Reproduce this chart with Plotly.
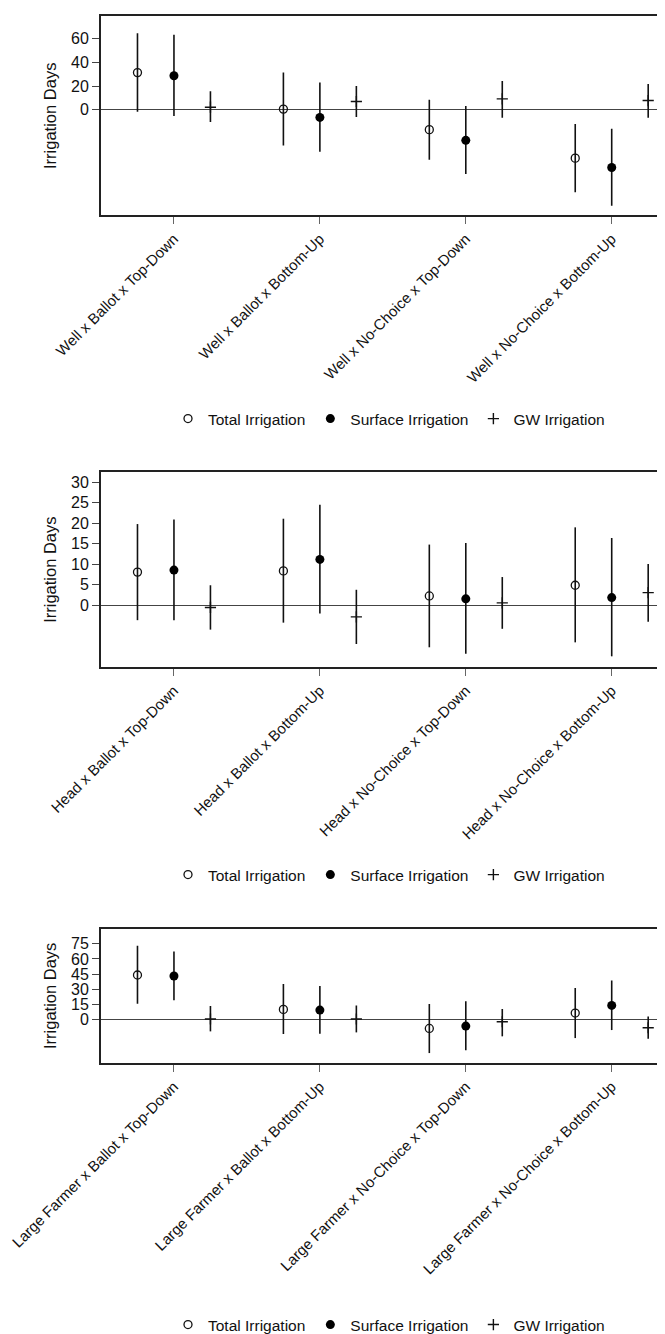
import plotly.graph_objects as go

W, H = 665, 1334

categories_well = ["Well x Ballot x Top-Down", "Well x Ballot x Bottom-Up",
                   "Well x No-Choice x Top-Down", "Well x No-Choice x Bottom-Up"]
categories_head = ["Head x Ballot x Top-Down", "Head x Ballot x Bottom-Up",
                   "Head x No-Choice x Top-Down", "Head x No-Choice x Bottom-Up"]
categories_large = ["Large Farmer x Ballot x Top-Down", "Large Farmer x Ballot x Bottom-Up",
                    "Large Farmer x No-Choice x Top-Down", "Large Farmer x No-Choice x Bottom-Up"]

series_names = ["Total Irrigation", "Surface Irrigation", "GW Irrigation"]

# Panel 1: Well
well_total = [31.3, 0.6, -16.7, -40.7]
well_total_hi = [64.5, 31.3, 8.4, -12.0]
well_total_lo = [-1.7, -30.1, -42.1, -69.5]
well_surf = [28.7, -6.4, -25.7, -48.6]
well_surf_hi = [63.1, 22.9, 3.1, -15.9]
well_surf_lo = [-5.3, -35.4, -54.1, -80.7]
well_gw = [2.2, 7.0, 9.2, 7.8]
well_gw_hi = [15.6, 20.1, 24.3, 21.8]
well_gw_lo = [-10.3, -6.1, -6.7, -6.7]

# Panel 2: Head
head_total = [8.1, 8.4, 2.3, 4.9]
head_total_hi = [19.8, 21.1, 14.8, 19.0]
head_total_lo = [-3.6, -4.2, -10.2, -9.0]
head_surf = [8.6, 11.2, 1.6, 1.9]
head_surf_hi = [20.9, 24.5, 15.2, 16.4]
head_surf_lo = [-3.6, -2.0, -11.8, -12.4]
head_gw = [-0.5, -2.8, 0.6, 3.1]
head_gw_hi = [4.9, 3.8, 6.9, 10.1]
head_gw_lo = [-5.9, -9.4, -5.7, -4.0]

# Panel 3: Large Farmer
large_total = [44.1, 10.2, -8.6, 6.6]
large_total_hi = [73.0, 35.2, 15.5, 31.2]
large_total_lo = [15.8, -14.1, -32.9, -18.1]
large_surf = [43.1, 9.5, -6.3, 14.1]
large_surf_hi = [67.4, 33.2, 18.1, 38.8]
large_surf_lo = [19.1, -13.8, -30.2, -10.2]
large_gw = [0.7, 0.7, -2.0, -7.9]
large_gw_hi = [13.5, 14.1, 10.5, 3.3]
large_gw_lo = [-11.5, -12.5, -16.4, -18.7]

ytick_well = [0, 20, 40, 60]
ytick_head = [0, 5, 10, 15, 20, 25, 30]
ytick_large = [0, 15, 30, 45, 60, 75]

panels = [
    dict(cats=categories_well, ticks=ytick_well, yr=[-88.8, 78.7], top=8.3, bot=207.3, leg_y=411,
         series=[(well_total, well_total_hi, well_total_lo),
                 (well_surf, well_surf_hi, well_surf_lo),
                 (well_gw, well_gw_hi, well_gw_lo)]),
    dict(cats=categories_head, ticks=ytick_head, yr=[-15.0, 32.4], top=464.3, bot=659.0, leg_y=867,
         series=[(head_total, head_total_hi, head_total_lo),
                 (head_surf, head_surf_hi, head_surf_lo),
                 (head_gw, head_gw_hi, head_gw_lo)]),
    dict(cats=categories_large, ticks=ytick_large, yr=[-42.7, 89.8], top=920.7, bot=1055.0, leg_y=1317,
         series=[(large_total, large_total_hi, large_total_lo),
                 (large_surf, large_surf_hi, large_surf_lo),
                 (large_gw, large_gw_hi, large_gw_lo)]),
]

offsets = [-0.25, 0.0, 0.25]
markers = [
    dict(symbol="circle-open", size=8, color="#111", line=dict(width=1.3, color="#111")),
    dict(symbol="circle", size=9, color="#000"),
    dict(symbol="cross-thin", size=8, color="#111", line=dict(width=1.4, color="#111")),
]

FONT = "Liberation Sans, Arial, Helvetica, sans-serif"
x_left = 93 / W
fig = go.Figure()
layout = dict(width=W, height=H, margin=dict(l=0, r=0, t=0, b=0, autoexpand=False),
              paper_bgcolor="white", plot_bgcolor="white",
              font=dict(family=FONT, size=15, color="#111"))

for p, panel in enumerate(panels):
    k = "" if p == 0 else str(p + 1)
    legname = "legend" + k
    for s, (vals, hi, lo) in enumerate(panel["series"]):
        xs = [i + offsets[s] for i in range(len(vals))]
        fig.add_trace(go.Scatter(
            x=xs, y=vals, mode="markers", name=series_names[s],
            marker=markers[s],
            error_y=dict(type="data", symmetric=False,
                         array=[h - v for h, v in zip(hi, vals)],
                         arrayminus=[v - l for v, l in zip(vals, lo)],
                         width=0, thickness=1.6, color="#111"),
            xaxis="x" + k, yaxis="y" + k, legend=legname, showlegend=True,
        ))
    layout["xaxis" + k] = dict(
        domain=[x_left, 1], range=[-0.5, 3.42], anchor="y" + k, automargin=False,
        tickvals=list(range(4)), ticktext=panel["cats"], tickangle=-45,
        ticklabeloverflow="allow",
        ticks="outside", ticklen=7, tickcolor="#666", tickwidth=1.3,
        showline=True, linecolor="#222", linewidth=2, mirror=True,
        showgrid=False, zeroline=False,
        tickfont=dict(size=15, color="#111"),
    )
    layout["yaxis" + k] = dict(
        domain=[1 - panel["bot"] / H, 1 - panel["top"] / H], range=panel["yr"],
        anchor="x" + k, tickvals=panel["ticks"], automargin=False,
        ticks="outside", ticklen=7, tickcolor="#444", tickwidth=1.3,
        showline=True, linecolor="#222", linewidth=1.8,
        showgrid=False, zeroline=True, zerolinecolor="#444", zerolinewidth=1.3,
        tickfont=dict(size=16, color="#111"),
        title=dict(text="Irrigation Days", font=dict(size=16.5, color="#111"), standoff=10),
    )
    layout[legname] = dict(orientation="h", x=381 / W, xanchor="center",
                           y=1 - panel["leg_y"] / H, yanchor="middle",
                           font=dict(size=15.5, color="#111"), bgcolor="rgba(0,0,0,0)",
                           itemwidth=30)

fig.update_layout(**layout)
fig.write_html("out.html")
